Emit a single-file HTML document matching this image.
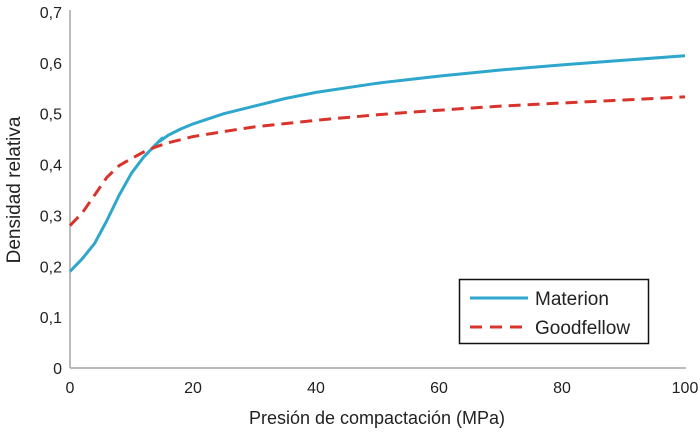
<!DOCTYPE html>
<html><head><meta charset="utf-8"><style>
body{margin:0;background:#fff;}
svg text{font-family:"Liberation Sans",sans-serif;fill:#222;}
</style></head><body>
<svg id="chart" width="700" height="435"></svg>
<script>
const xTicks=[0,20,40,60,80,100];
const yTicks=[0,0.1,0.2,0.3,0.4,0.5,0.6,0.7];
const yTickLabels=["0","0,1","0,2","0,3","0,4","0,5","0,6","0,7"];
const materionX=[0,2,4,6,8,10,12,14,15,14.5,16,18,20,25,30,35,40,50,60,70,80,90,100];
const materionY=[0.19,0.215,0.245,0.29,0.34,0.383,0.415,0.44,0.452,0.445,0.458,0.47,0.48,0.5,0.515,0.53,0.542,0.56,0.574,0.586,0.596,0.605,0.614];
const goodX=[0,2,4,6,8,10,12,14,16,20,25,30,40,50,60,70,80,90,100];
const goodY=[0.28,0.305,0.34,0.375,0.398,0.412,0.425,0.435,0.443,0.455,0.465,0.474,0.487,0.498,0.507,0.515,0.521,0.527,0.533];
const NS="http://www.w3.org/2000/svg";
const svg=document.getElementById('chart');
const x0=70,x1=685,y0=368,y1=12;
function sx(v){return x0+(v-0)/(100-0)*(x1-x0);}
function sy(v){return y0-(v-0)/(0.7-0)*(y0-y1);}
function mk(t,a){const e=document.createElementNS(NS,t);for(const k in a)e.setAttribute(k,a[k]);svg.appendChild(e);return e;}
let ax=mk('line',{x1:x0,y1:y0,x2:x1+1,y2:y0,stroke:'#bbb','stroke-width':2});


let ay=mk('line',{x1:x0,y1:y0,x2:x0,y2:y1-2,stroke:'#bbb','stroke-width':2});


xTicks.forEach(v=>{const t=mk('text',{x:sx(v),y:393,'text-anchor':'middle','font-size':16});t.textContent=v;

});
yTicks.forEach((v,i)=>{const t=mk('text',{x:62,y:sy(v)+6,'text-anchor':'end','font-size':16});t.textContent=yTickLabels[i];

});
let xt=mk('text',{x:377,y:424,'text-anchor':'middle','font-size':18});xt.textContent='Presión de compactación (MPa)';


let yt=mk('text',{x:0,y:0,'text-anchor':'middle','font-size':19,transform:'translate(20,190) rotate(-90)'});yt.textContent='Densidad relativa';


function path(xs,ys){return xs.map((v,i)=>(i?'L':'M')+sx(v).toFixed(1)+','+sy(ys[i]).toFixed(1)).join(' ');}
let pm=mk('path',{d:path(materionX,materionY),fill:'none',stroke:'#2ea7cc','stroke-width':3,'stroke-linejoin':'round'});


let pg=mk('path',{d:path(goodX,goodY),fill:'none',stroke:'#d9342b','stroke-width':3,'stroke-dasharray':'12,7'});


let lb=mk('rect',{x:459.5,y:279.5,width:189,height:64,fill:'#fff',stroke:'#111','stroke-width':1.5});


mk('line',{x1:470,y1:298,x2:528,y2:298,stroke:'#2ea7cc','stroke-width':3});
mk('line',{x1:470,y1:327,x2:528,y2:327,stroke:'#d9342b','stroke-width':3,'stroke-dasharray':'12,8'});
let l1=mk('text',{x:535,y:305,'font-size':19});l1.textContent='Materion';


let l2=mk('text',{x:535,y:334,'font-size':19});l2.textContent='Goodfellow';


</script>
</body></html>
